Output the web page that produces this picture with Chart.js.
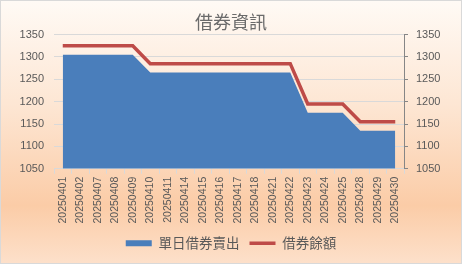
<!DOCTYPE html>
<html>
<head>
<meta charset="utf-8">
<script src="https://cdn.jsdelivr.net/npm/chart.js@4"></script>
<style>
  html, body { margin: 0; padding: 0; }
  body { width: 462px; height: 264px; overflow: hidden; }
  #wrap {
    position: relative; width: 460px; height: 262px;
    border: 1px solid #d9d9d9;
    background: linear-gradient(to bottom, #fffaf5 0%, #fde6d3 40%, #fbcca7 78%, #fde0ca 100%);
  }
</style>
</head>
<body>
<div id="wrap"><canvas id="chart" width="460" height="262"></canvas></div>
<script>
const dates = ['20250401', '20250402', '20250407', '20250408', '20250409', '20250410', '20250411',
    '20250414', '20250415', '20250416', '20250417', '20250418', '20250421', '20250422',
    '20250423', '20250424', '20250425', '20250428', '20250429', '20250430'];
const dailyShortSell = [1305, 1305, 1305, 1305, 1305, 1265, 1265, 1265, 1265, 1265, 1265, 1265, 1265, 1265,
    1175, 1175, 1175, 1135, 1135, 1135];
const lendingBalance = [1325, 1325, 1325, 1325, 1325, 1285, 1285, 1285, 1285, 1285, 1285, 1285, 1285, 1285,
    1195, 1195, 1195, 1155, 1155, 1155];
const axisMin = 1050;
const axisMax = 1350;
const axisStep = 50;

const labelFont = { family: 'Liberation Sans', size: 11 };
const cjk = '"Noto Sans CJK TC", "Noto Sans CJK SC", sans-serif';
const plainNumber = v => String(v);

const ctx = document.getElementById('chart').getContext('2d');
new Chart(ctx, {
    type: 'line',
    data: {
        labels: dates,
        datasets: [{
            label: '單日借券賣出',
            data: dailyShortSell,
            backgroundColor: '#4a7ebb',
            borderColor: '#4a7ebb',
            borderWidth: 0,
            fill: 'start',
            pointRadius: 0,
            pointStyle: 'rect',
            tension: 0,
            order: 2
        }, {
            label: '借券餘額',
            data: lendingBalance,
            borderColor: '#be4b48',
            backgroundColor: '#be4b48',
            borderWidth: 3.5,
            fill: false,
            pointRadius: 0,
            pointStyle: 'line',
            tension: 0,
            order: 1
        }]
    },
    options: {
        responsive: false,
        animation: false,
        layout: { padding: { left: 0, right: 0, top: 0, bottom: 3 } },
        plugins: {
            title: {
                display: true,
                text: '借券資訊',
                color: '#6b6b6b',
                font: { family: cjk, size: 18, weight: 'normal' },
                padding: { top: 10, bottom: 2 }
            },
            legend: {
                position: 'bottom',
                labels: {
                    usePointStyle: true,
                    pointStyleWidth: 26,
                    boxHeight: 6,
                    color: '#595959',
                    font: { family: cjk, size: 13.5 },
                    padding: 10,
                    sort: (a, b) => a.datasetIndex - b.datasetIndex
                }
            },
            tooltip: { enabled: false }
        },
        scales: {
            x: {
                offset: true,
                grid: { offset: true, drawOnChartArea: false, drawTicks: true, tickLength: 5, color: '#d9d9d9' },
                border: { display: true, color: '#d9d9d9' },
                ticks: {
                    autoSkip: false, minRotation: 90, maxRotation: 90, padding: 3,
                    color: '#595959', font: { family: 'Liberation Sans', size: 10.5 }
                }
            },
            y: {
                position: 'left',
                min: axisMin, max: axisMax,
                grid: { color: '#d9d9d9', drawTicks: false },
                border: { display: false },
                ticks: { stepSize: axisStep, padding: 10, color: '#595959', font: labelFont, callback: plainNumber },
                afterFit: s => { s.width = 53; }
            },
            y2: {
                position: 'right',
                min: axisMin, max: axisMax,
                grid: { drawOnChartArea: false, drawTicks: true, tickLength: 4, color: '#868686' },
                border: { display: true, color: '#868686' },
                ticks: { stepSize: axisStep, padding: 8, color: '#595959', font: labelFont, callback: plainNumber },
                afterFit: s => { s.width = 57; }
            }
        }
    }
});
</script>
</body>
</html>
